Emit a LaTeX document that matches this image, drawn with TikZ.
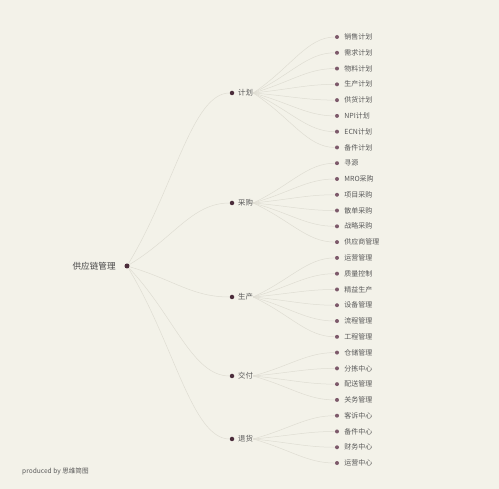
\documentclass[tikz,border=0pt]{standalone}
\usepackage{fontspec}
\setmainfont{Noto Sans CJK SC}
\usetikzlibrary{positioning,calc}

\definecolor{bg}{HTML}{F3F2E9}
\definecolor{dotdark}{HTML}{4B2D3B}
\definecolor{dotleaf}{HTML}{7D5A6B}
\definecolor{txt}{HTML}{585858}
\definecolor{linec}{HTML}{DFDDD3}

\tikzset{
  rootdot/.style={circle,fill=dotdark,inner sep=0pt,minimum size=5pt},
  middot/.style={circle,fill=dotdark,inner sep=0pt,minimum size=4.5pt},
  leafdot/.style={circle,fill=dotleaf,inner sep=0pt,minimum size=4pt},
  roottext/.style={font=\fontsize{8.6}{10}\selectfont,text=txt!80!black,inner sep=0pt},
  midtext/.style={font=\fontsize{7.4}{9}\selectfont,text=txt,inner sep=0pt},
  leaftext/.style={font=\fontsize{7}{8}\selectfont,text=txt,inner sep=0pt},
  link/.style={draw=linec,line width=0.5pt}
}

\begin{document}
\begin{tikzpicture}[x=1pt,y=-1pt]
    \fill[bg] (0,0) rectangle (499,489);
    \useasboundingbox (0,0) rectangle (499,489);

    % root
    \node[rootdot] (root) at (127,266) {};
    \node[roottext,left=8.5pt of root] (rootl) {供应链管理};

    % first level
    \node[middot] (jh) at (232,93) {};
    \node[midtext,right=3.5pt of jh] (jhl) {计划};
    \node[middot] (cg) at (232,203) {};
    \node[midtext,right=3.5pt of cg] (cgl) {采购};
    \node[middot] (sc) at (232,297) {};
    \node[midtext,right=3.5pt of sc] (scl) {生产};
    \node[middot] (jf) at (232,376) {};
    \node[midtext,right=3.5pt of jf] (jfl) {交付};
    \node[middot] (th) at (232,439) {};
    \node[midtext,right=3.5pt of th] (thl) {退货};

    \foreach \m in {jh,cg,sc,jf,th}
        \draw[link] (root) .. controls ($(root)!0.45!(\m)$) and ($(\m)+(-40,0)$) .. (\m);

    % leaves
    \foreach \t [count=\i from 0] in {销售计划,需求计划,物料计划,生产计划,供货计划,NPI计划,ECN计划,备件计划} {
        \node[leafdot] (jh\i) at (337,37+15.78*\i) {};
        \node[leaftext,right=5pt of jh\i] (jh\i t) {\t};
        \draw[link] (jhl.east) .. controls ($(jhl.east)!0.45!(jh\i)$) and ($(jh\i)+(-30,0)$) .. (jh\i);
    }
    \foreach \t [count=\i from 0] in {寻源,MRO采购,项目采购,散单采购,战略采购,供应商管理} {
        \node[leafdot] (cg\i) at (337,163.2+15.78*\i) {};
        \node[leaftext,right=5pt of cg\i] (cg\i t) {\t};
        \draw[link] (cgl.east) .. controls ($(cgl.east)!0.45!(cg\i)$) and ($(cg\i)+(-30,0)$) .. (cg\i);
    }
    \foreach \t [count=\i from 0] in {运营管理,质量控制,精益生产,设备管理,流程管理,工程管理} {
        \node[leafdot] (sc\i) at (337,257.9+15.78*\i) {};
        \node[leaftext,right=5pt of sc\i] (sc\i t) {\t};
        \draw[link] (scl.east) .. controls ($(scl.east)!0.45!(sc\i)$) and ($(sc\i)+(-30,0)$) .. (sc\i);
    }
    \foreach \t [count=\i from 0] in {仓储管理,分拣中心,配送管理,关务管理} {
        \node[leafdot] (jf\i) at (337,352.6+15.78*\i) {};
        \node[leaftext,right=5pt of jf\i] (jf\i t) {\t};
        \draw[link] (jfl.east) .. controls ($(jfl.east)!0.45!(jf\i)$) and ($(jf\i)+(-30,0)$) .. (jf\i);
    }
    \foreach \t [count=\i from 0] in {客诉中心,备件中心,财务中心,运营中心} {
        \node[leafdot] (th\i) at (337,415.7+15.78*\i) {};
        \node[leaftext,right=5pt of th\i] (th\i t) {\t};
        \draw[link] (thl.east) .. controls ($(thl.east)!0.45!(th\i)$) and ($(th\i)+(-30,0)$) .. (th\i);
    }

    \node[leaftext,font=\fontsize{6.6}{7}\selectfont,anchor=west] (credit) at (22,471) {produced by 思维简图};
\end{tikzpicture}
\end{document}
